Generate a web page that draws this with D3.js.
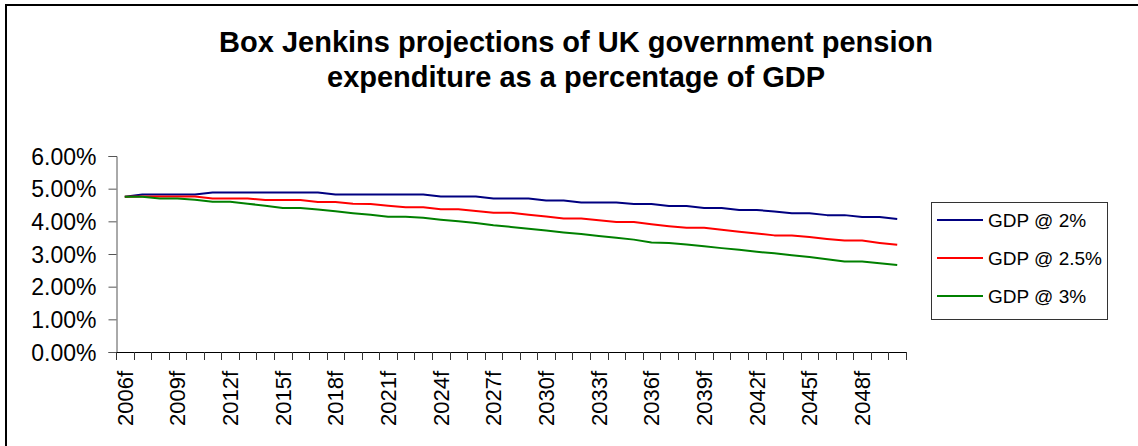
<!DOCTYPE html>
<html>
<head>
<meta charset="utf-8">
<script src="https://cdn.jsdelivr.net/npm/d3@7"></script>
<style>
  html, body { margin: 0; padding: 0; background: #fff; }
  svg { display: block; }
  text { font-family: "Liberation Sans", Arial, sans-serif; fill: #000; }
</style>
</head>
<body>
<svg id="chart" width="1138" height="446"></svg>
<script>
// Forecast years (category axis)
const years = ["2006f","2007f","2008f","2009f","2010f","2011f","2012f","2013f","2014f","2015f",
  "2016f","2017f","2018f","2019f","2020f","2021f","2022f","2023f","2024f","2025f",
  "2026f","2027f","2028f","2029f","2030f","2031f","2032f","2033f","2034f","2035f",
  "2036f","2037f","2038f","2039f","2040f","2041f","2042f","2043f","2044f","2045f",
  "2046f","2047f","2048f","2049f","2050f"];

// Pension expenditure, % of GDP, under three GDP growth assumptions
const gdp2 = [4.75,4.82,4.82,4.82,4.82,4.88,4.88,4.88,4.88,4.88,
  4.88,4.88,4.82,4.82,4.82,4.82,4.82,4.82,4.76,4.76,
  4.76,4.70,4.70,4.70,4.64,4.64,4.58,4.58,4.58,4.53,
  4.53,4.47,4.47,4.41,4.41,4.35,4.35,4.30,4.25,4.25,
  4.19,4.19,4.13,4.13,4.07];
const gdp25 = [4.75,4.76,4.76,4.76,4.76,4.70,4.70,4.70,4.65,4.65,
  4.65,4.59,4.59,4.54,4.53,4.48,4.43,4.43,4.37,4.37,
  4.32,4.26,4.26,4.20,4.15,4.09,4.09,4.03,3.98,3.98,
  3.91,3.85,3.80,3.80,3.74,3.68,3.63,3.57,3.57,3.52,
  3.46,3.41,3.41,3.34,3.28];
const gdp3 = [4.75,4.75,4.70,4.70,4.66,4.60,4.60,4.54,4.48,4.41,
  4.41,4.36,4.31,4.25,4.20,4.14,4.14,4.11,4.05,4.00,
  3.95,3.88,3.83,3.77,3.72,3.66,3.61,3.55,3.50,3.44,
  3.35,3.34,3.29,3.24,3.18,3.13,3.07,3.02,2.96,2.91,
  2.84,2.77,2.77,2.72,2.66];

const seriesNames = ["GDP @ 2%", "GDP @ 2.5%", "GDP @ 3%"];
const seriesColors = ["#000080", "#ff0000", "#008000"];
const yTicks = [0, 1, 2, 3, 4, 5, 6];
const titleLines = ["Box Jenkins projections of UK government pension",
                    "expenditure as a percentage of GDP"];

const series = [gdp2, gdp25, gdp3].map((values, k) => ({
  name: seriesNames[k], color: seriesColors[k], values
}));

const svg = d3.select("#chart");
const plot = { left: 116, right: 906, top: 156, bottom: 352 };

// Outer chart frame (runs off the right and bottom edges)
svg.append("rect")
  .attr("x", 6).attr("y", 5)
  .attr("width", 1200).attr("height", 500)
  .attr("fill", "#fff").attr("stroke", "#000").attr("stroke-width", 2);

// Title
svg.append("text")
  .attr("text-anchor", "middle")
  .attr("font-size", 29).attr("font-weight", "bold")
  .selectAll("tspan").data(titleLines).join("tspan")
  .attr("x", 576)
  .attr("y", (d, i) => 52 + i * 35)
  .text(d => d);

const x = d3.scaleBand().domain(years).range([plot.left, plot.right]).padding(0);
const y = d3.scaleLinear().domain([0, 6]).range([plot.bottom, plot.top]);
const cx = d => x(d) + x.bandwidth() / 2;

// Y axis
const yAxis = svg.append("g").attr("transform", `translate(${plot.left + 0.5},0)`)
  .call(d3.axisLeft(y).tickValues(yTicks).tickSize(8).tickPadding(12)
    .tickFormat(d => d3.format(".2f")(d) + "%"));
yAxis.select(".domain").attr("stroke", "#555");
yAxis.selectAll(".tick line").attr("stroke", "#555");
yAxis.selectAll(".tick text")
  .attr("font-size", 23)
  .attr("font-family", "'Liberation Sans', Arial, sans-serif")
  .attr("fill", "#000")
  .attr("dy", "0.36em");

// X axis: ticks sit on the category boundaries
const boundaries = years.map(d => x(d)).concat([plot.right]);
const xg = svg.append("g");
xg.append("line")
  .attr("x1", plot.left).attr("x2", plot.right)
  .attr("y1", plot.bottom + 0.5).attr("y2", plot.bottom + 0.5)
  .attr("stroke", "#000");
xg.selectAll("line.tick").data(boundaries).join("line")
  .attr("class", "tick")
  .attr("x1", d => Math.round(d) + 0.5).attr("x2", d => Math.round(d) + 0.5)
  .attr("y1", plot.bottom).attr("y2", plot.bottom + 8)
  .attr("stroke", "#333");
xg.selectAll("text").data(years.filter((d, i) => i % 3 === 0)).join("text")
  .attr("font-size", 22)
  .attr("text-anchor", "end")
  .attr("transform", d => `translate(${cx(d)},${plot.bottom + 19}) rotate(-90)`)
  .attr("dy", "0.36em")
  .text(d => d);

// Series lines
const line = d3.line().x((v, i) => cx(years[i])).y(v => y(v));
svg.append("g").selectAll("path").data(series).join("path")
  .attr("d", s => line(s.values))
  .attr("fill", "none")
  .attr("stroke", s => s.color)
  .attr("stroke-width", 2)
  .attr("stroke-linejoin", "round");

// Legend
const lg = svg.append("g");
lg.append("rect")
  .attr("x", 931.5).attr("y", 202.5).attr("width", 176).attr("height", 117)
  .attr("fill", "#fff").attr("stroke", "#333");
const items = lg.selectAll("g.item").data(series).join("g")
  .attr("class", "item")
  .attr("transform", (d, i) => `translate(0,${220 + i * 38})`);
items.append("line")
  .attr("x1", 937).attr("x2", 983).attr("y1", 0).attr("y2", 0)
  .attr("stroke", d => d.color).attr("stroke-width", 2);
items.append("text")
  .attr("x", 988).attr("y", 0).attr("dy", "0.36em")
  .attr("font-size", 19)
  .text(d => d.name);
</script>
</body>
</html>
